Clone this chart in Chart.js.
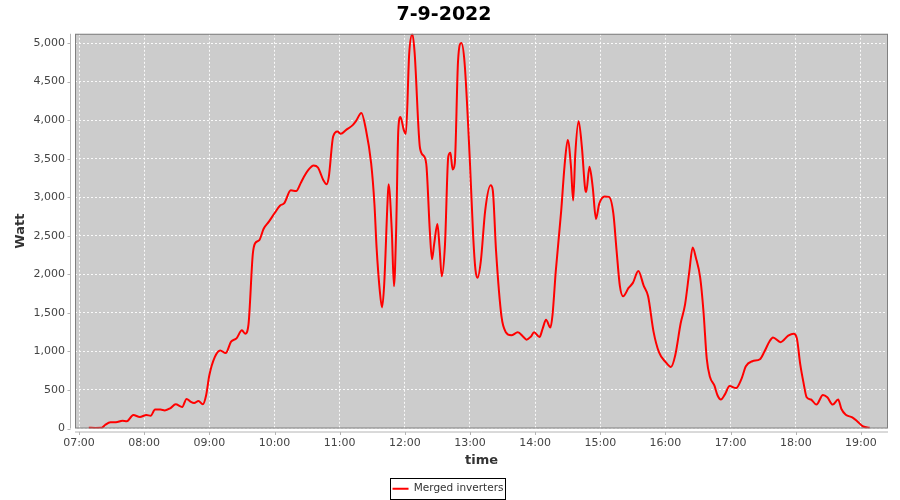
<!DOCTYPE html>
<html>
<head>
<meta charset="utf-8">
<script src="https://cdn.jsdelivr.net/npm/chart.js@4"></script>
<style>
  body { margin: 0; background: #fff; }
  canvas { display: block; }
</style>
</head>
<body>
<canvas id="powerChart" width="900" height="500"></canvas>
<script>
// time of each reading (HH:MM)
const times = [
  "07:09","07:15","07:21","07:24","07:29","07:34","07:40","07:44","07:50","07:56",
  "08:02","08:06","08:10","08:15","08:19","08:24","08:29","08:35","08:39","08:43",
  "08:46","08:50","08:54","08:57","09:00","09:05","09:10","09:15","09:20","09:25",
  "09:30","09:33","09:36","09:40","09:42","09:46","09:50","09:55","10:00","10:05",
  "10:09","10:15","10:20","10:24","10:27","10:31","10:36","10:40","10:45","10:48",
  "10:50","10:54","10:58","11:01","11:06","11:12","11:15","11:20","11:24","11:29",
  "11:32","11:34","11:37","11:39","11:41","11:44","11:45","11:48","11:50","11:52",
  "11:54","11:56","11:59","12:01","12:04","12:07","12:09","12:14","12:18","12:20",
  "12:23","12:25","12:27","12:30","12:32","12:34","12:37","12:40","12:42","12:44",
  "12:46","12:49","12:52","12:55","13:00","13:03","13:05","13:07","13:10","13:14",
  "13:19","13:21","13:24","13:29","13:33","13:38","13:44","13:49","13:52","13:56",
  "13:59","14:04","14:07","14:10","14:14","14:16","14:19","14:24","14:27","14:30",
  "14:33","14:35","14:37","14:40","14:43","14:46","14:47","14:50","14:53","14:56",
  "14:59","15:04","15:08","15:12","15:15","15:18","15:21","15:26","15:30","15:35",
  "15:40","15:44","15:49","15:54","16:00","16:05","16:09","16:14","16:18","16:22",
  "16:25","16:28","16:32","16:35","16:38","16:41","16:45","16:48","16:51","16:55",
  "16:59","17:05","17:10","17:14","17:20","17:27","17:31","17:36","17:39","17:46",
  "17:53","17:58","18:01","18:04","18:07","18:10","18:14","18:19","18:25","18:29",
  "18:34","18:39","18:42","18:46","18:52","18:57","19:02","19:08"
];

// Merged inverters, Watt
const watts = [
  10, 8, 10, 45, 80, 80, 100, 95, 175, 150,
  175, 165, 245, 245, 235, 262, 314, 280, 384, 345,
  331, 357, 314, 428, 690, 925, 1012, 978, 1126, 1169,
  1274, 1230, 1344, 2260, 2400, 2444, 2592, 2687, 2792, 2890,
  2923, 3089, 3080, 3180, 3263, 3351, 3412, 3386, 3220, 3168,
  3263, 3787, 3852, 3822, 3874, 3935, 3988, 4093, 3891, 3438,
  2915, 2347, 1780, 1571, 1868, 2915, 3168, 2565, 1845, 2565,
  3874, 4041, 3874, 3822, 4856, 5118, 4879, 3635, 3525, 3394,
  2565, 2195, 2391, 2653, 2347, 1976, 2391, 3525, 3577, 3360,
  3438, 4768, 5000, 4748, 3438, 2478, 2064, 1954, 2173, 2827,
  3154, 3089, 2304, 1453, 1250, 1210, 1247, 1191, 1152, 1191,
  1247, 1187, 1300, 1410, 1309, 1475, 2042, 2827, 3394, 3743,
  3394, 2958, 3569, 3985, 3656, 3111, 3067, 3394, 3132, 2719,
  2915, 3010, 3005, 2790, 2304, 1850, 1715, 1823, 1889, 2042,
  1850, 1715, 1257, 990, 864, 798, 951, 1365, 1606, 2042,
  2347, 2216, 1954, 1518, 907, 668, 559, 428, 376, 449,
  550, 524, 645, 808, 873, 899, 995, 1135, 1180, 1120,
  1204, 1230, 1169, 842, 602, 406, 376, 310, 436, 406,
  310, 376, 253, 179, 144, 88, 26, 9
];

// axis tick labels
const hourTicks = ["07:00","08:00","09:00","10:00","11:00","12:00","13:00",
                   "14:00","15:00","16:00","17:00","18:00","19:00"];
const wattTicks = [0, 500, 1000, 1500, 2000, 2500, 3000, 3500, 4000, 4500, 5000];

const seriesName = "Merged inverters";
const chartTitle = "7-9-2022";

function toMinutes(t) {
  const p = t.split(":");
  return parseInt(p[0]) * 60 + parseInt(p[1]);
}

function fmtTime(m) {
  const h = Math.floor(m / 60), mm = Math.round(m % 60);
  return String(h).padStart(2, "0") + ":" + String(mm).padStart(2, "0");
}

const points = times.map((t, i) => ({ x: toMinutes(t), y: watts[i] }));

// gray plot area, outline, offset axis lines and legend frame (JFreeChart look)
const plotDecor = {
  id: 'plotDecor',
  afterLayout(chart) {
    // push the legend a little lower / right, like the original
    const lg = chart.legend;
    lg.top += 4; lg.bottom += 4;
    lg.left += 4; lg.right += 4;
  },
  beforeDraw(chart) {
    const { ctx, chartArea: a } = chart;
    ctx.save();
    ctx.fillStyle = '#cccccc';
    ctx.fillRect(a.left, a.top, a.right - a.left, a.bottom - a.top);
    ctx.restore();
  },
  afterDraw(chart) {
    const { ctx, chartArea: a } = chart;
    const xs = chart.scales.x, ys = chart.scales.y;
    ctx.save();
    ctx.strokeStyle = '#808080';
    ctx.lineWidth = 1;
    ctx.strokeRect(a.left + 0.5, a.top + 0.5, a.right - a.left - 1, a.bottom - a.top - 1);

    ctx.strokeStyle = '#b4b4b4';
    ctx.beginPath();
    // y axis line + ticks
    const ax = a.left - 4.5;
    ctx.moveTo(ax, a.top);
    ctx.lineTo(ax, a.bottom);
    ys.ticks.forEach((t, i) => {
      const y = Math.round(ys.getPixelForTick(i)) + 0.5;
      ctx.moveTo(ax - 3, y);
      ctx.lineTo(ax, y);
    });
    // x axis line + ticks
    const ay = a.bottom + 3.5;
    ctx.moveTo(a.left, ay);
    ctx.lineTo(a.right, ay);
    xs.ticks.forEach((t, i) => {
      const x = Math.round(xs.getPixelForTick(i)) + 0.5;
      ctx.moveTo(x, ay);
      ctx.lineTo(x, ay + 3);
    });
    ctx.stroke();

    // legend frame
    const hb = chart.legend.legendHitBoxes[0];
    if (hb) {
      ctx.strokeStyle = '#000';
      ctx.strokeRect(Math.round(hb.left) - 2.5, Math.round(hb.top) - 5.5, Math.round(hb.width) + 4, Math.round(hb.height) + 10);
    }
    ctx.restore();
  }
};

const ctx = document.getElementById('powerChart').getContext('2d');
new Chart(ctx, {
  type: 'line',
  data: {
    datasets: [{
      label: seriesName,
      data: points,
      borderColor: '#ff0000',
      backgroundColor: '#ff0000',
      borderWidth: 2,
      pointRadius: 0,
      cubicInterpolationMode: 'monotone',
      fill: false
    }]
  },
  options: {
    responsive: false,
    animation: false,
    layout: { padding: { left: 0, right: 12, top: 0, bottom: 0 } },
    plugins: {
      title: {
        display: true,
        text: chartTitle,
        color: '#000',
        font: { family: 'DejaVu Sans', size: 19, weight: 'bold' },
        padding: { top: 4, bottom: 7 }
      },
      legend: {
        position: 'bottom',
        labels: {
          color: '#333',
          font: { family: 'DejaVu Sans', size: 10.5 },
          usePointStyle: true,
          pointStyle: 'line',
          pointStyleWidth: 16,
          padding: 8
        }
      },
      tooltip: { enabled: false }
    },
    scales: {
      x: {
        type: 'linear',
        min: 416.3,
        max: 1164.9,
        afterFit: (s) => { s.height = 43; },
        afterBuildTicks: (s) => { s.ticks = hourTicks.map(t => ({ value: toMinutes(t) })); },
        grid: { color: 'rgba(255,255,255,0.9)', drawTicks: false, tickLength: 0 },
        border: { display: false, dash: [2, 2] },
        ticks: {
          autoSkip: false,
          maxRotation: 0,
          padding: 8,
          color: '#444',
          font: { family: 'DejaVu Sans', size: 11 },
          callback: (v) => fmtTime(v)
        },
        title: {
          display: true,
          text: 'time',
          color: '#333',
          font: { family: 'DejaVu Sans', size: 13, weight: 'bold' },
          padding: { top: 0, bottom: 3 }
        }
      },
      y: {
        min: 0,
        max: 5120,
        afterFit: (s) => { s.width = 75; },
        afterBuildTicks: (s) => { s.ticks = wattTicks.map(v => ({ value: v })); },
        grid: { color: 'rgba(255,255,255,0.9)', drawTicks: false, tickLength: 0 },
        border: { display: false, dash: [2, 2] },
        ticks: {
          autoSkip: false,
          padding: 10,
          color: '#444',
          font: { family: 'DejaVu Sans', size: 11 },
          callback: (v) => v.toLocaleString('en-US')
        },
        title: {
          display: true,
          text: 'Watt',
          color: '#333',
          font: { family: 'DejaVu Sans', size: 13, weight: 'bold' },
          padding: { top: 13, bottom: 0 }
        }
      }
    }
  },
  plugins: [plotDecor]
});
</script>
</body>
</html>
